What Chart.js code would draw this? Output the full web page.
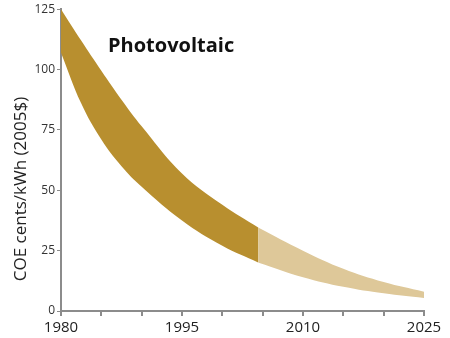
<!DOCTYPE html>
<html>
<head>
<meta charset="utf-8">
<title>Photovoltaic COE</title>
<script src="https://cdn.jsdelivr.net/npm/chart.js@4.4.1/dist/chart.umd.min.js"></script>
<style>
    html, body { margin: 0; padding: 0; background: #ffffff; }
    #wrap { width: 450px; height: 338px; }
</style>
</head>
<body>
<div id="wrap"><canvas id="pvChart" width="450" height="338"></canvas></div>
<script>
// ==========================
// DATA
// ==========================

// historical part of the band (dark)
const darkYears = [1980, 1982.5, 1985, 1987.5, 1990, 1995, 2000, 2004.5];
const darkUpper = [125, 112, 99.5, 87.5, 76.5, 57, 44, 34.5];
const darkLower = [107, 86, 71, 60, 51.5, 37.5, 27, 20];

// projected part of the band (light)
const lightYears = [2004.5, 2010, 2015, 2020, 2025];
const lightUpper = [34.5, 25, 17.5, 12, 8];
const lightLower = [20, 14, 10, 7.3, 5.4];

const xTickLabels = [1980, 1995, 2010, 2025];
const yTicks = [0, 25, 50, 75, 100, 125];

const chartTitle = "Photovoltaic";
const yAxisTitle = "COE cents/kWh (2005$)";

const darkColor = '#b88f2f';
const lightColor = '#dec899';
const axisColor = '#8c8c8c';

function toPoints(years, values) {
    return years.map((y, i) => ({ x: y, y: values[i] }));
}

function bandLine(points, fill, color) {
    return {
        data: points,
        fill: fill,
        backgroundColor: color,
        borderWidth: 0,
        pointRadius: 0,
        tension: 0.4
    };
}

// ==========================
// TEXT PLUGIN (title + y title)
// ==========================

const textPlugin = {
    id: 'pvText',
    afterDraw(chart) {
        const ctx = chart.ctx;
        ctx.save();
        ctx.fillStyle = '#111';
        ctx.font = "bold 20px 'Open Sans', sans-serif";
        ctx.textAlign = 'left';
        ctx.textBaseline = 'alphabetic';
        ctx.fillText(chartTitle, 108, 52);

        ctx.translate(21, 189);
        ctx.rotate(-Math.PI / 2);
        ctx.fillStyle = '#222';
        ctx.font = "17px 'Open Sans', sans-serif";
        ctx.textAlign = 'center';
        ctx.textBaseline = 'middle';
        ctx.fillText(yAxisTitle, 0, 0);
        ctx.restore();
    }
};

// ==========================
// CHART
// ==========================

const ctx = document.getElementById('pvChart').getContext('2d');

let pvChart = new Chart(ctx, {
    type: 'line',
    data: {
        datasets: [
            bandLine(toPoints(darkYears, darkUpper), '+1', darkColor),
            bandLine(toPoints(darkYears, darkLower), false, darkColor),
            bandLine(toPoints(lightYears, lightUpper), '+1', lightColor),
            bandLine(toPoints(lightYears, lightLower), false, lightColor)
        ]
    },
    options: {
        responsive: false,
        animation: false,
        layout: { padding: { top: 9, right: 26, left: 0, bottom: 0 } },
        plugins: {
            legend: { display: false },
            tooltip: { enabled: false }
        },
        scales: {
            x: {
                type: 'linear',
                min: 1980,
                max: 2025,
                afterFit: s => { s.height = 27; },
                border: { display: true, color: axisColor, width: 2 },
                grid: { drawOnChartArea: false, drawTicks: true, tickLength: 5, color: axisColor, lineWidth: 2 },
                ticks: {
                    stepSize: 5,
                    autoSkip: false,
                    maxRotation: 0,
                    padding: 3,
                    color: '#222',
                    font: { family: "'Liberation Sans Narrow', 'Open Sans', sans-serif", size: 15 },
                    callback: v => xTickLabels.includes(v) ? String(v) : ''
                }
            },
            y: {
                min: 0,
                max: 125,
                afterFit: s => { s.width = 61; },
                afterBuildTicks: s => { s.ticks = yTicks.map(v => ({ value: v })); },
                border: { display: true, color: axisColor, width: 2 },
                grid: { drawOnChartArea: false, drawTicks: true, tickLength: 4, color: axisColor, lineWidth: 1 },
                ticks: {
                    padding: 2,
                    color: '#333',
                    font: { family: "'Liberation Sans Narrow', 'Open Sans', sans-serif", size: 12 }
                }
            }
        }
    },
    plugins: [textPlugin]
});
</script>
</body>
</html>
